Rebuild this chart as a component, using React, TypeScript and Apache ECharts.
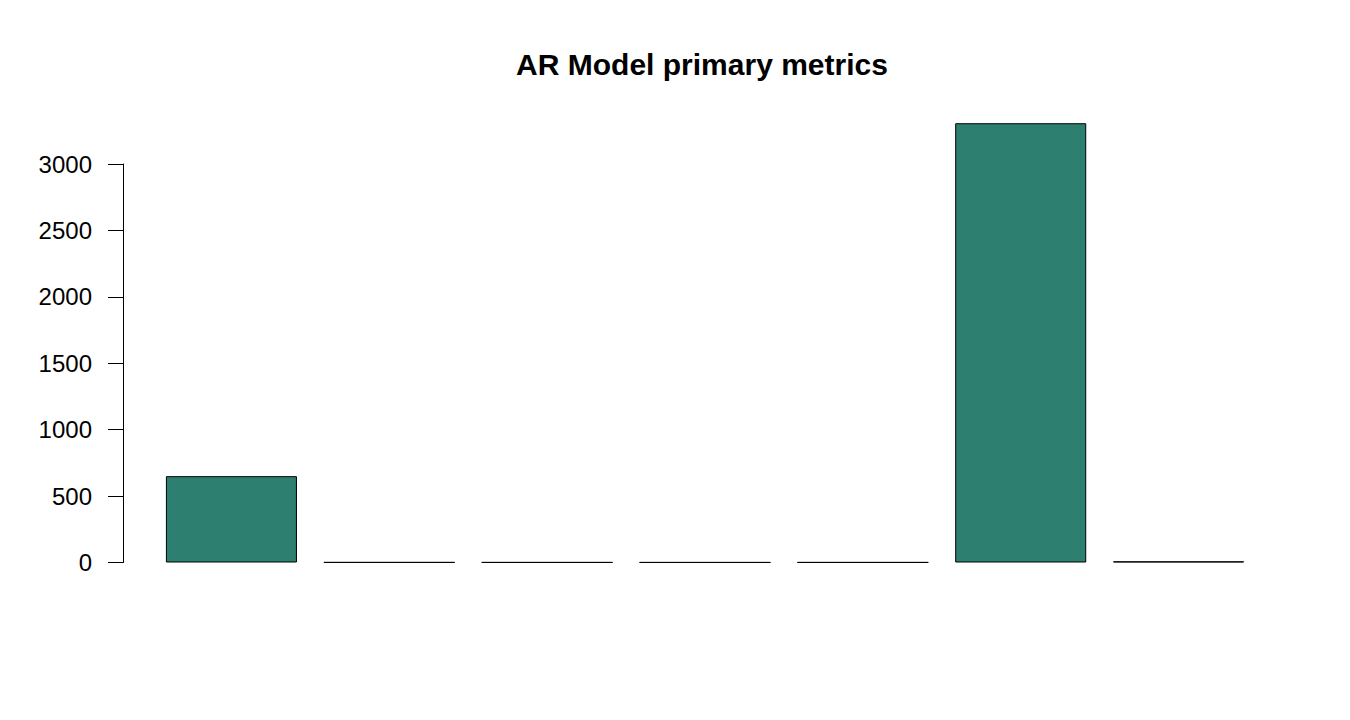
import { useRef, useEffect } from "react"
import * as echarts from "echarts"

// metric names are not printed under the bars in the original plot
const metricNames = ["AIC", "BIC", "ME", "MAE", "MPE", "RMSE", "MAPE"]
const metricValues = [650, 1.5, 1.2, 1, 1.3, 3307, 9]
const yTicks = [0, 500, 1000, 1500, 2000, 2500, 3000]

const FONT = "'Liberation Sans', Arial, sans-serif"
const BAR_COLOR = "#2d806f"

export default function App() {
  const chartRef = useRef<HTMLDivElement>(null)

  useEffect(() => {
    document.body.style.margin = "0"
    if (!chartRef.current) return
    const chart = echarts.init(chartRef.current, null, { renderer: "svg" })

    const axisTop = yTicks[yTicks.length - 1]
    const plotMax = 3400
    // bottom of both grids sits at the zero line; the axis grid only spans 0..3000
    const zeroY = 562.5
    const axisTopY = 164
    const barGridHeight = ((zeroY - axisTopY) * plotMax) / axisTop

    chart.setOption({
      animation: false,
      backgroundColor: "#ffffff",
      title: {
        text: "AR Model primary metrics",
        left: 697,
        top: 44,
        textAlign: "center",
        textStyle: { fontFamily: FONT, fontSize: 30, fontWeight: "bold", color: "#000" },
      },
      grid: [
        { left: 152.5, width: 1105, top: zeroY - barGridHeight, height: barGridHeight },
        { left: 123, width: 1134, top: axisTopY, height: zeroY - axisTopY },
      ],
      xAxis: [
        {
          gridIndex: 0,
          type: "category",
          data: metricNames,
          axisLine: { show: false },
          axisTick: { show: false },
          axisLabel: { show: false },
        },
        { gridIndex: 1, type: "value", show: false, min: 0, max: 1 },
      ],
      yAxis: [
        { gridIndex: 0, type: "value", min: 0, max: plotMax, show: false },
        {
          gridIndex: 1,
          type: "value",
          min: yTicks[0],
          max: axisTop,
          interval: 500,
          splitLine: { show: false },
          axisLine: { show: true, lineStyle: { color: "#000", width: 1 } },
          axisTick: { show: true, length: 15, lineStyle: { color: "#000", width: 1 } },
          axisLabel: {
            margin: 31,
            fontFamily: FONT,
            fontSize: 24,
            color: "#000",
            formatter: (v: number) => String(v),
          },
        },
      ],
      series: [
        {
          type: "bar",
          xAxisIndex: 0,
          yAxisIndex: 0,
          data: metricValues,
          barCategoryGap: "17%",
          itemStyle: { color: BAR_COLOR, borderColor: "#000", borderWidth: 1 },
        },
        { type: "bar", xAxisIndex: 1, yAxisIndex: 1, data: [] },
      ],
    })

    const handleResize = () => chart.resize()
    window.addEventListener("resize", handleResize)
    return () => {
      window.removeEventListener("resize", handleResize)
      chart.dispose()
    }
  }, [])

  return <div ref={chartRef} style={{ width: "1350px", height: "720px" }} />
}
